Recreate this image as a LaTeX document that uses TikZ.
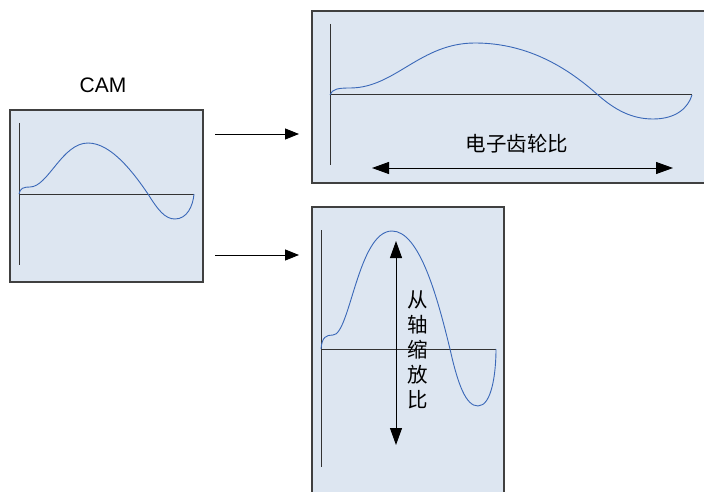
\documentclass[tikz,border=0pt]{standalone}
\usepackage{fontspec}
\setmainfont{Liberation Sans}
\newfontfamily\cjk{Noto Sans CJK SC}
\usetikzlibrary{arrows.meta}
\definecolor{boxfill}{HTML}{DDE6F1}
\definecolor{boxline}{HTML}{404040}
\definecolor{curve}{HTML}{3A68B8}
\tikzset{
  panel/.style={draw=boxline, line width=1.2pt, fill=boxfill},
  axis/.style={draw=black!80, line width=1pt},
  wave/.style={draw=curve, line width=0.9pt},
  flow/.style={draw=black, line width=0.8pt, -{Triangle[length=14pt,width=11pt]}},
  dbl/.style={draw=black, line width=1pt, {Triangle[length=17pt,width=12pt]}-{Triangle[length=17pt,width=12pt]}},
}
\begin{document}
\begin{tikzpicture}[x=1pt,y=-1pt]
\useasboundingbox (0,0) rectangle (704,492);
\begin{scope}
\clip (0,0) rectangle (704,492);
% panels
\draw[panel] (10,110) rectangle (203,282);
\draw[panel] (312,11) rectangle (710,183);
\draw[panel] (312,207) rectangle (504,500);
% left panel
\draw[axis] (19,123) -- (19,265);
\draw[axis] (19,194) -- (194,194);
\draw[wave] (19,194) .. controls (20,188) and (24,187) .. (30,187)
  .. controls (48,187) and (62,143) .. (88,143)
  .. controls (112,143) and (135,175) .. (148,194)
  .. controls (158,210) and (165,219) .. (175,219)
  .. controls (187,219) and (193,206) .. (194,194);
% top right panel
\draw[axis] (330,24) -- (330,165);
\draw[axis] (330,95) -- (692,95);
\draw[wave] (330,95) .. controls (332,89) and (338,88) .. (350,88)
  .. controls (395,88) and (420,43) .. (475,43)
  .. controls (530,43) and (570,70) .. (598,95)
  .. controls (615,110) and (632,119) .. (653,119)
  .. controls (676,119) and (688,108) .. (692,95);
% bottom panel
\draw[axis] (321,230) -- (321,467);
\draw[axis] (321,349) -- (496,349);
\draw[wave] (321,349) .. controls (322,337) and (326,335) .. (333,335)
  .. controls (350,335) and (358,231) .. (392,231)
  .. controls (420,231) and (438,300) .. (450,349)
  .. controls (458,385) and (466,406) .. (478,406)
  .. controls (492,406) and (496,372) .. (496,349);
\end{scope}
% labels
\node[font=\fontsize{21}{21}\selectfont] (cam) at (103,85) {CAM};
\coordinate (g1) at (372,168);
\coordinate (g2) at (673,168);
\draw[dbl] (g1) -- (g2);
\node[font=\cjk\fontsize{20.5}{20.5}\selectfont] (gear) at (517,144) {电子齿轮比};
\coordinate (s1) at (396,241);
\coordinate (s2) at (396,445);
\draw[dbl] (s1) -- (s2);
\node[font=\cjk\fontsize{20.5}{25}\selectfont, align=center] (slave) at (418,350) {从\\轴\\缩\\放\\比};
% flow arrows
\coordinate (a1) at (215,134);
\coordinate (b1) at (299,134);
\coordinate (a2) at (215,255);
\coordinate (b2) at (299,255);
\draw[flow] (a1) -- (b1);
\draw[flow] (a2) -- (b2);
\end{tikzpicture}
\end{document}
